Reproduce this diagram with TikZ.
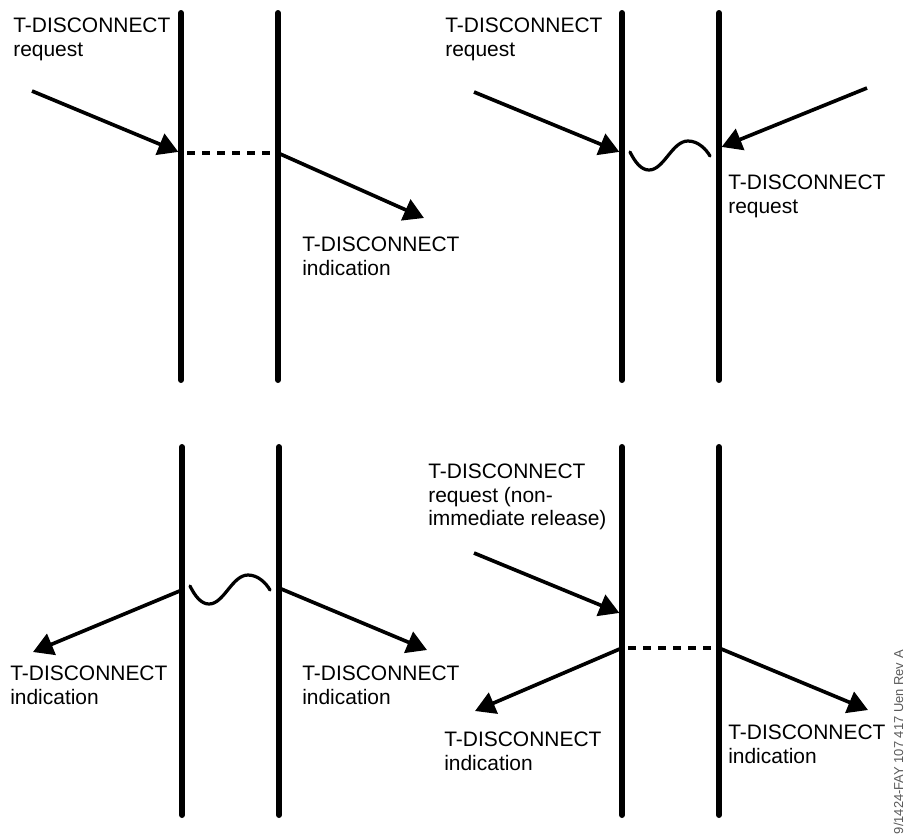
\documentclass[tikz,border=0pt]{standalone}
\usepackage{fontspec}
\setmainfont{Liberation Sans}
\usetikzlibrary{arrows.meta,positioning}

\tikzset{
	layer/.style={line width=4.25pt, line cap=round},
	prim/.style={line width=2.6pt, -{Triangle[length=5mm,width=5.6mm]}},
	hold/.style={line width=2.6pt, dash pattern=on 5.7pt off 5pt, dash phase=6.4pt},
	primtext/.style={anchor=north west, inner sep=0pt, align=left, font=\fontsize{14.9}{16.6}\selectfont},
	wiggle/.pic={
		\draw[line width=2.3pt, line cap=round] (8,-1) .. controls (13,9) and (19,17) .. (27,17)
			.. controls (42,17) and (50,-12) .. (66,-12) .. controls (76,-12) and (84,-4) .. (88,3);
	},
}

\begin{document}
\begin{tikzpicture}[x=0.025cm, y=-0.025cm]
	\useasboundingbox (0,0) rectangle (906,838);

	% local release, peer gets the indication
	\begin{scope}[shift={(181,13)}]
		\foreach \x in {0,97}{
			\draw[layer] (\x,0) -- (\x,367);
		}
		\node[primtext] (req) at (-168,5) {T-DISCONNECT\\request};
		\coordinate (in) at (-149,78);
		\coordinate (a) at (0,140);
		\coordinate (b) at (97,140);
		\coordinate (out) at (243,205);
		\draw[prim, shorten >=2pt] (in) -- (a);
		\draw[hold] (a) -- (b);
		\draw[prim] (b) -- (out);
		\node[primtext] (ind) at (121,224) {T-DISCONNECT\\indication};
	\end{scope}

	% both sides release at once
	\begin{scope}[shift={(622,13)}]
		\foreach \x in {0,97}{
			\draw[layer] (\x,0) -- (\x,367);
		}
		\node[primtext] (req) at (-177,5) {T-DISCONNECT\\request};
		\coordinate (in) at (-148,79);
		\coordinate (a) at (0,140);
		\coordinate (in2) at (245,75);
		\coordinate (b) at (97,135);
		\draw[prim, shorten >=2pt] (in) -- (a);
		\draw[prim, shorten >=2pt] (in2) -- (b);
		\pic at (0,140) {wiggle};
		\node[primtext] (req2) at (106,162) {T-DISCONNECT\\request};
	\end{scope}

	% provider initiated release
	\begin{scope}[shift={(182,447)}]
		\foreach \x in {0,97}{
			\draw[layer] (\x,0) -- (\x,368);
		}
		\pic at (0,140) {wiggle};
		\coordinate (a) at (0,143);
		\coordinate (b) at (97,141);
		\coordinate (out) at (-149,205);
		\coordinate (out2) at (245,203);
		\draw[prim] (a) -- (out);
		\draw[prim] (b) -- (out2);
		\node[primtext] (ind) at (-172,219) {T-DISCONNECT\\indication};
		\node[primtext] (ind2) at (120,219) {T-DISCONNECT\\indication};
	\end{scope}

	% non-immediate release
	\begin{scope}[shift={(622,447)}]
		\foreach \x in {0,97}{
			\draw[layer] (\x,0) -- (\x,368);
		}
		\node[primtext] (req) at (-194,17) {T-DISCONNECT\\request (non-\\immediate release)};
		\coordinate (in) at (-148,106);
		\coordinate (hit) at (0,167);
		\coordinate (a) at (0,201);
		\coordinate (b) at (97,201);
		\coordinate (out) at (-147,264);
		\coordinate (out2) at (246,263);
		\draw[prim, shorten >=2pt] (in) -- (hit);
		\draw[hold] (a) -- (b);
		\draw[prim] (a) -- (out);
		\draw[prim] (b) -- (out2);
		\node[primtext] (ind) at (-178,285) {T-DISCONNECT\\indication};
		\node[primtext] (ind2) at (106,278) {T-DISCONNECT\\indication};
	\end{scope}

	\node[rotate=90, anchor=base east, inner sep=0pt, text=black!65,
		font=\fontsize{9.2}{11}\selectfont] (docref) at (903,650) {9/1424-FAY 107 417 Uen Rev A};
\end{tikzpicture}
\end{document}
